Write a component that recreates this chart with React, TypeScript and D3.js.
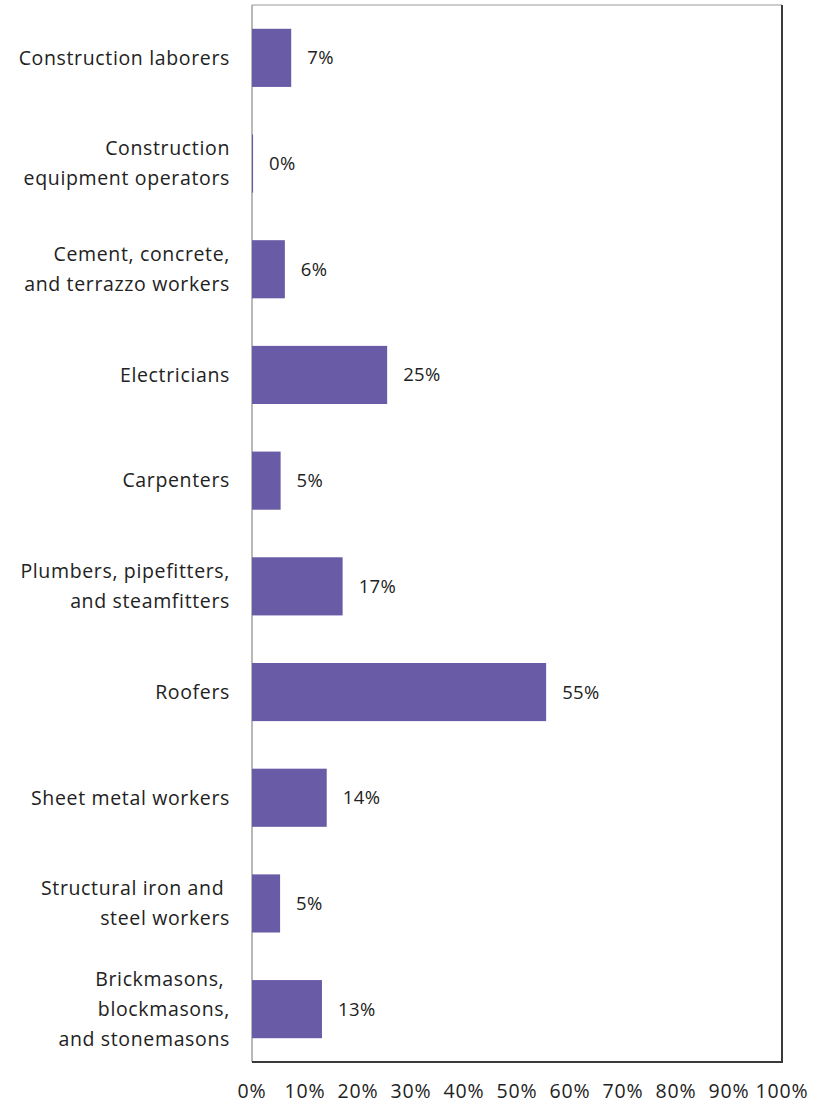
import React from "react";
import * as d3 from "d3";

const categories: string[][] = [
  ["Construction laborers"],
  ["Construction", "equipment operators"],
  ["Cement, concrete,", "and terrazzo workers"],
  ["Electricians"],
  ["Carpenters"],
  ["Plumbers, pipefitters,", "and steamfitters"],
  ["Roofers"],
  ["Sheet metal workers"],
  ["Structural iron and ", "steel workers"],
  ["Brickmasons, ", "blockmasons,", "and stonemasons"],
];
const values: number[] = [7.4, 0.2, 6.2, 25.5, 5.4, 17.1, 55.5, 14.1, 5.3, 13.2];
const valueLabels: string[] = ["7%", "0%", "6%", "25%", "5%", "17%", "55%", "14%", "5%", "13%"];
const ticks: number[] = [0, 10, 20, 30, 40, 50, 60, 70, 80, 90, 100];

const W = 829;
const H = 1104;
const left = 252;
const right = 782;
const top = 5;
const bottom = 1062;
const font = "'Open Sans', sans-serif";

export default function App() {
  const x = d3.scaleLinear().domain([0, 100]).range([left, right]);
  const y = d3
    .scaleBand<number>()
    .domain(d3.range(categories.length))
    .range([top, bottom])
    .paddingInner(0.45)
    .paddingOuter(0.225);
  const lineH = 30;
  return (
    <svg
      width={W}
      height={H}
      style={{ position: "absolute", left: 0, top: 0, background: "#fff" }}
    >
      {/* frame */}
      <line x1={left} x2={right} y1={top} y2={top} stroke="#9a9a9a" strokeWidth={1.2} />
      <line x1={left} x2={left} y1={top} y2={bottom} stroke="#8a8a8a" strokeWidth={1.2} />
      <line x1={right} x2={right} y1={top} y2={bottom + 1} stroke="#3a3a3a" strokeWidth={2} />
      <line x1={left} x2={right + 1} y1={bottom} y2={bottom} stroke="#3a3a3a" strokeWidth={2} />
      {values.map((v, i) => {
        const y0 = y(i)!;
        const bh = y.bandwidth();
        const cy = y0 + bh / 2;
        const lines = categories[i];
        const n = lines.length;
        return (
          <g key={i}>
            <rect
              x={x(0)}
              y={y0}
              width={Math.max(1, x(v) - x(0))}
              height={bh}
              fill="#6a5ba6"
            />
            <text
              x={x(v) + 16}
              y={cy}
              dy="0.35em"
              fontFamily={font}
              fontSize={18.5}
              letterSpacing={0.4}
              fill="#222"
            >
              {valueLabels[i]}
            </text>
            <text
              fontFamily={font}
              fontSize={19.5}
              letterSpacing={0.65}
              fill="#222"
              textAnchor="end"
              style={{ whiteSpace: "pre" }}
            >
              {lines.map((l, j) => (
                <tspan key={j} x={230} y={cy + (j - (n - 1) / 2) * lineH} dy="0.35em">
                  {l}
                </tspan>
              ))}
            </text>
          </g>
        );
      })}
      {ticks.map((t) => (
        <text
          key={t}
          x={x(t)}
          y={1091}
          dy="0.35em"
          textAnchor="middle"
          fontFamily={font}
          fontSize={19.5}
          letterSpacing={0.8}
          fill="#222"
        >
          {t + "%"}
        </text>
      ))}
    </svg>
  );
}
